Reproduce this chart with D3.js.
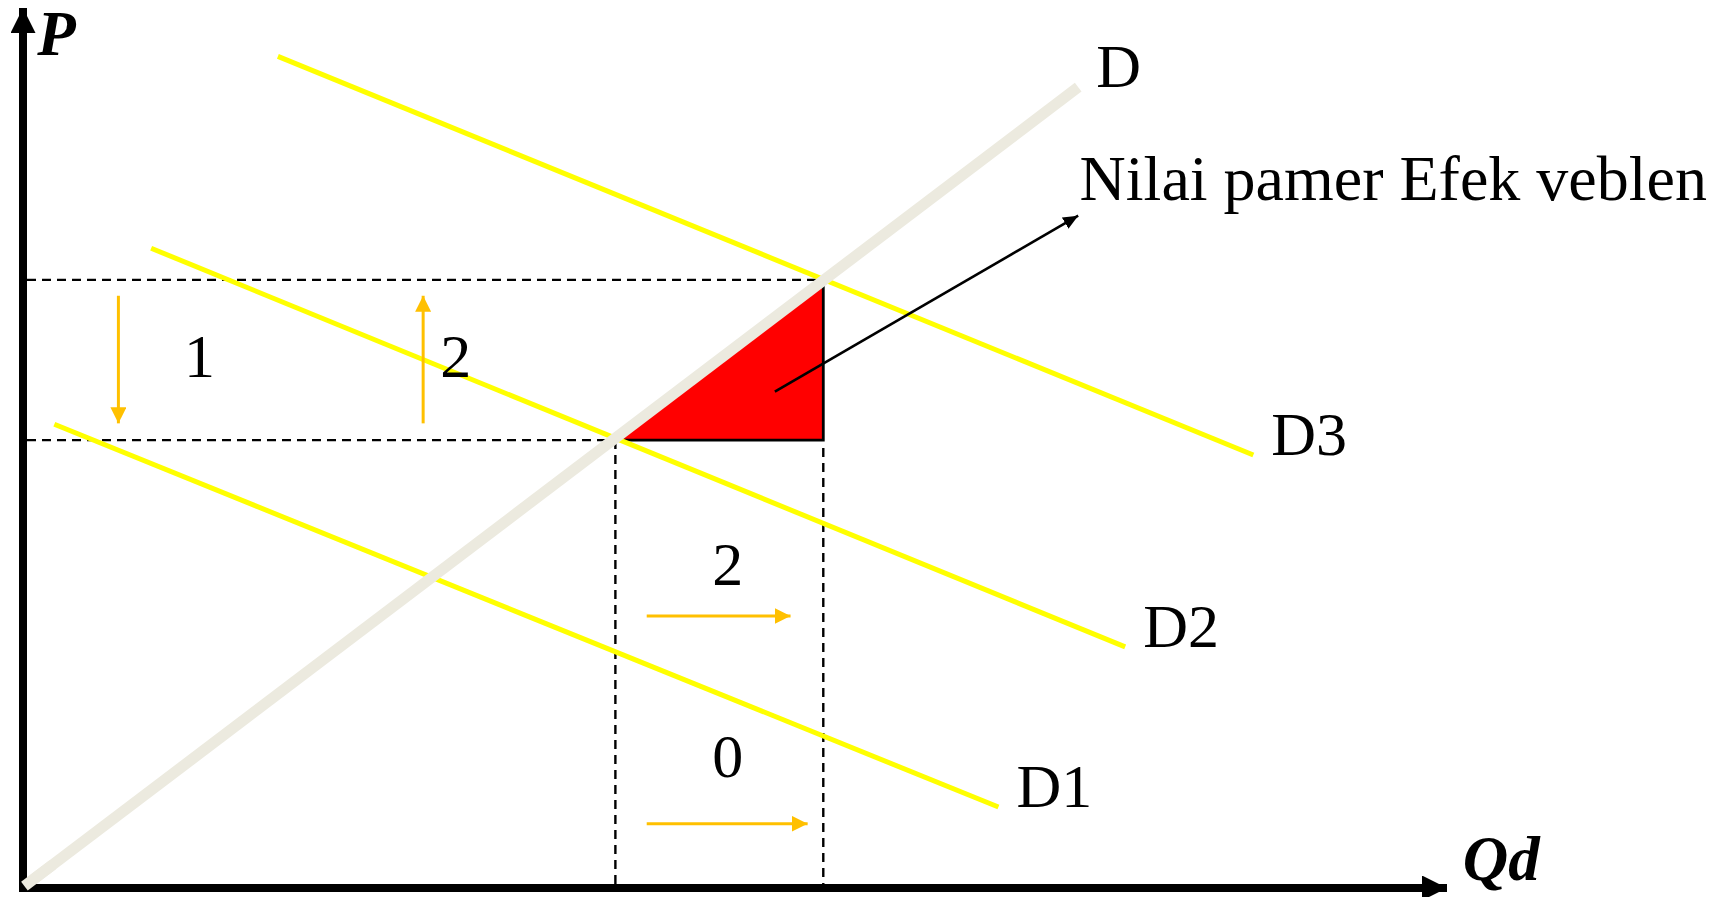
<!DOCTYPE html>
<html>
<head>
<meta charset="utf-8">
<script src="https://cdn.jsdelivr.net/npm/d3@7"></script>
<style>
  html, body { margin: 0; padding: 0; background: #ffffff; }
  svg { display: block; }
  text { font-family: "Liberation Serif", "Times New Roman", serif; fill: #000; }
</style>
</head>
<body>
<script>
// ---------------- data (diagram units: Q on x, P on y) ----------------
const lineLabels = ["D", "D1", "D2", "D3"];
const lineStartQ = [0.1, 2.2, 9.0, 17.9];
const lineStartP = [0.2, 52.7, 72.7, 94.5];
const lineEndQ   = [74.1, 68.5, 77.4, 86.4];
const lineEndP   = [91.0, 9.2, 27.4, 49.2];

const qLevels = [41.6, 56.2];   // Q1, Q2
const pLevels = [50.9, 69.1];   // P1, P2

const stepLabels = ["1", "2", "2", "0"];
const stepQ = [11.3, 29.3, 48.4, 48.4];
const stepP = [58.1, 58.1, 34.4, 12.6];

const shiftFromQ = [6.7, 28.1, 43.8, 43.8];
const shiftFromP = [67.3, 52.8, 30.9, 7.3];
const shiftToQ   = [6.7, 28.1, 53.9, 55.1];
const shiftToP   = [52.8, 67.3, 30.9, 7.3];

const noteText = "Nilai pamer Efek veblen";
const notePos = [74.2, 78.2];
const noteArrowFrom = [52.8, 56.4];
const noteArrowTo = [74.1, 76.4];

const axisLabels = ["P", "Qd"];
const axisLabelQ = [1.0, 101.1];
const axisLabelP = [94.7, 0.9];

// ---------------- layout ----------------
const W = 1721, H = 897;
const x = d3.scaleLinear().domain([0, 100]).range([23, 1447]);
const y = d3.scaleLinear().domain([0, 100]).range([888, 8]);

const svg = d3.select("body").append("svg").attr("width", W).attr("height", H);
const defs = svg.append("defs");

function marker(id, len, wid, color) {
  defs.append("marker")
    .attr("id", id)
    .attr("markerUnits", "userSpaceOnUse")
    .attr("viewBox", `0 ${-wid / 2} ${len} ${wid}`)
    .attr("refX", len).attr("refY", 0)
    .attr("markerWidth", len).attr("markerHeight", wid)
    .attr("orient", "auto")
    .append("path")
    .attr("d", `M0,${-wid / 2}L${len},0L0,${wid / 2}Z`)
    .attr("fill", color);
}
marker("axisHead", 25, 25, "#000");
marker("orangeHead", 16, 16, "#FFC000");
marker("blackHead", 15, 13, "#000");

// dashed guide lines
const dash = "9,6";
const guides = svg.append("g").attr("stroke", "#000").attr("stroke-width", 2.4)
  .attr("stroke-dasharray", dash).attr("fill", "none");
// horizontal: P2 to Q2, P1 to Q1
guides.append("line").attr("x1", x(0) + 4).attr("x2", x(qLevels[1]))
  .attr("y1", y(pLevels[1])).attr("y2", y(pLevels[1]));
guides.append("line").attr("x1", x(0) + 4).attr("x2", x(qLevels[0]))
  .attr("y1", y(pLevels[0])).attr("y2", y(pLevels[0]));
// vertical: Q1 from P1 down, Q2 from P1 down
guides.append("line").attr("x1", x(qLevels[0])).attr("x2", x(qLevels[0]))
  .attr("y1", y(pLevels[0])).attr("y2", y(0));
guides.append("line").attr("x1", x(qLevels[1])).attr("x2", x(qLevels[1]))
  .attr("y1", y(pLevels[0]) + 8).attr("y2", y(0));

// red triangle (veblen value)
const tri = [[qLevels[0], pLevels[0]], [qLevels[1], pLevels[0]], [qLevels[1], pLevels[1]]];
svg.append("path")
  .attr("d", d3.line().x(d => x(d[0])).y(d => y(d[1]))(tri) + "Z")
  .attr("fill", "#FF0000");
svg.append("path")
  .attr("d", d3.line().x(d => x(d[0])).y(d => y(d[1]))(tri))
  .attr("fill", "none").attr("stroke", "#000").attr("stroke-width", 2.8);

// demand curves D1, D2, D3 (yellow) then D (beige) on top
const order = [1, 2, 3, 0];
order.forEach(i => {
  const isD = i === 0;
  svg.append("line")
    .attr("x1", x(lineStartQ[i])).attr("y1", y(lineStartP[i]))
    .attr("x2", x(lineEndQ[i])).attr("y2", y(lineEndP[i]))
    .attr("stroke", isD ? "#ECEADF" : "#FFFF00")
    .attr("stroke-width", isD ? 11 : 5);
});

// axes
svg.append("line")
  .attr("x1", x(0)).attr("y1", y(0) + 4).attr("x2", x(0)).attr("y2", y(100))
  .attr("stroke", "#000").attr("stroke-width", 8).attr("marker-end", "url(#axisHead)");
svg.append("line")
  .attr("x1", x(0) - 4).attr("y1", y(0)).attr("x2", x(100)).attr("y2", y(0))
  .attr("stroke", "#000").attr("stroke-width", 8).attr("marker-end", "url(#axisHead)");
// D line start sits over the axis corner
svg.append("line")
  .attr("x1", x(lineStartQ[0])).attr("y1", y(lineStartP[0]))
  .attr("x2", x(lineStartQ[0] + 2)).attr("y2", y(lineStartP[0] + 2 * (lineEndP[0] - lineStartP[0]) / (lineEndQ[0] - lineStartQ[0])))
  .attr("stroke", "#ECEADF").attr("stroke-width", 11);

// orange shift arrows
shiftFromQ.forEach((q, i) => {
  svg.append("line")
    .attr("x1", x(q)).attr("y1", y(shiftFromP[i]))
    .attr("x2", x(shiftToQ[i])).attr("y2", y(shiftToP[i]))
    .attr("stroke", "#FFC000").attr("stroke-width", 3)
    .attr("marker-end", "url(#orangeHead)");
});

// annotation arrow
svg.append("line")
  .attr("x1", x(noteArrowFrom[0])).attr("y1", y(noteArrowFrom[1]))
  .attr("x2", x(noteArrowTo[0])).attr("y2", y(noteArrowTo[1]))
  .attr("stroke", "#000").attr("stroke-width", 2.6)
  .attr("marker-end", "url(#blackHead)");

// curve labels
lineLabels.forEach((t, i) => {
  svg.append("text")
    .attr("x", x(lineEndQ[i]) + 18).attr("y", y(lineEndP[i]))
    .attr("font-size", 62).text(t);
});

// step numbers
stepLabels.forEach((t, i) => {
  svg.append("text").attr("x", x(stepQ[i])).attr("y", y(stepP[i]))
    .attr("font-size", 62).text(t);
});

// annotation text
svg.append("text").attr("x", x(notePos[0])).attr("y", y(notePos[1]))
  .attr("font-size", 64).text(noteText);

// axis labels
axisLabels.forEach((t, i) => {
  svg.append("text").attr("x", x(axisLabelQ[i])).attr("y", y(axisLabelP[i]))
    .attr("font-size", 63).attr("font-weight", "bold").attr("font-style", "italic")
    .text(t);
});
</script>
</body>
</html>
